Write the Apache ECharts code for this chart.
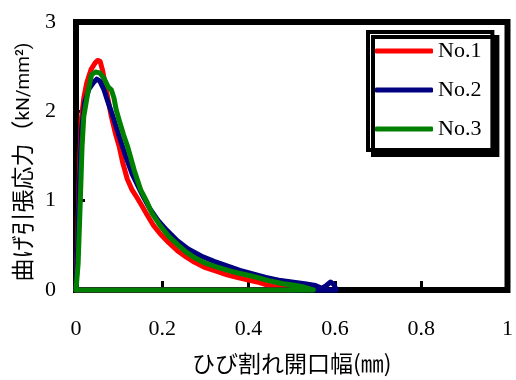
<!DOCTYPE html>
<html>
<head>
<meta charset="utf-8">
<script src="https://cdn.jsdelivr.net/npm/echarts@6/dist/echarts.min.js"></script>
<style>html,body{margin:0;padding:0;background:#fff}#c{width:516px;height:380px}</style>
</head>
<body>
<div id="c"></div>
<script>
var seriesNames = ['No.1', 'No.2', 'No.3'];
var xTicks = ['0', '0.2', '0.4', '0.6', '0.8', '1'];
var yTicks = ['0', '1', '2', '3'];

var x1 = [0, 0.004, 0.008, 0.012, 0.018, 0.025, 0.035, 0.044, 0.05, 0.056, 0.062, 0.07, 0.082, 0.092, 0.1, 0.108, 0.119, 0.13, 0.142, 0.153, 0.165, 0.18, 0.195, 0.215, 0.235, 0.255, 0.275, 0.3, 0.325, 0.35, 0.375, 0.4, 0.42, 0.44, 0.46, 0.48, 0.495, 0.505, 0];
var y1 = [0, 0.6, 1.35, 1.9, 2.15, 2.32, 2.47, 2.54, 2.57, 2.56, 2.45, 2.24, 1.94, 1.74, 1.61, 1.43, 1.24, 1.12, 1.03, 0.94, 0.84, 0.72, 0.63, 0.53, 0.44, 0.37, 0.31, 0.25, 0.21, 0.17, 0.14, 0.11, 0.09, 0.06, 0.04, 0.03, 0.01, 0, 0];

var x2 = [0, 0.004, 0.008, 0.013, 0.02, 0.03, 0.04, 0.048, 0.055, 0.065, 0.073, 0.085, 0.1, 0.115, 0.13, 0.15, 0.17, 0.19, 0.21, 0.235, 0.26, 0.29, 0.32, 0.35, 0.38, 0.41, 0.44, 0.47, 0.5, 0.53, 0.555, 0.57, 0.58, 0.59, 0.598, 0.603, 0];
var y2 = [0, 0.5, 1.2, 1.8, 2.1, 2.25, 2.32, 2.36, 2.34, 2.24, 2.12, 1.95, 1.72, 1.5, 1.3, 1.1, 0.92, 0.78, 0.67, 0.55, 0.46, 0.38, 0.32, 0.27, 0.22, 0.18, 0.14, 0.11, 0.09, 0.07, 0.05, 0.02, 0.05, 0.09, 0.06, 0, 0];

var x3 = [0, 0.005, 0.01, 0.014, 0.018, 0.027, 0.036, 0.045, 0.055, 0.065, 0.075, 0.082, 0.088, 0.093, 0.1, 0.11, 0.12, 0.135, 0.15, 0.165, 0.176, 0.195, 0.215, 0.235, 0.254, 0.275, 0.3, 0.325, 0.352, 0.375, 0.394, 0.42, 0.45, 0.48, 0.51, 0.53, 0.55, 0];
var y3 = [0, 0.3, 1.0, 1.6, 1.94, 2.2, 2.41, 2.44, 2.43, 2.37, 2.27, 2.24, 2.15, 2.02, 1.9, 1.74, 1.6, 1.34, 1.12, 0.98, 0.86, 0.72, 0.6, 0.51, 0.43, 0.36, 0.3, 0.26, 0.22, 0.19, 0.17, 0.14, 0.1, 0.07, 0.05, 0.03, 0, 0];

var colors = ['#ff0000', '#000080', '#008000'];

function pairs(xs, ys) {
  var out = [];
  for (var i = 0; i < xs.length; i++) out.push([xs[i], ys[i]]);
  return out;
}
var allX = [x1, x2, x3], allY = [y1, y2, y3];

var chart = echarts.init(document.getElementById('c'), null, {renderer: 'canvas'});
var serif = 'Liberation Serif, Times New Roman, serif';
var jp = 'Noto Sans CJK JP, sans-serif';

chart.setOption({
  animation: false,
  backgroundColor: '#fff',
  grid: {
    left: 76, right: 3, top: 22, bottom: 88,
    show: true, borderColor: '#000', borderWidth: 6, backgroundColor: 'transparent'
  },
  legend: {
    orient: 'vertical',
    left: 368, top: 32,
    padding: [8, 11, 10, 7],
    icon: 'roundRect',
    itemWidth: 58, itemHeight: 5, itemGap: 17,
    backgroundColor: '#fff',
    borderColor: '#000', borderWidth: 4,
    shadowColor: '#000', shadowOffsetX: 5, shadowOffsetY: 5, shadowBlur: 0,
    textStyle: {fontFamily: serif, fontSize: 22, color: '#000', lineHeight: 22},
    data: seriesNames
  },
  xAxis: {
    type: 'value', min: 0, max: 1, interval: 0.2,
    axisLine: {show: false},
    axisTick: {show: true, inside: true, length: 9, lineStyle: {color: '#000', width: 3}},
    splitLine: {show: false},
    axisLabel: {
      margin: 28, fontFamily: serif, fontSize: 22, color: '#000',
      formatter: function (v) { return xTicks[Math.round(v / 0.2)]; }
    },
    name: 'ひび割れ開口幅(㎜)',
    nameLocation: 'middle', nameGap: 62,
    nameTextStyle: {fontFamily: jp, fontSize: 23, color: '#000'}
  },
  yAxis: {
    type: 'value', min: 0, max: 3, interval: 1,
    axisLine: {show: false},
    axisTick: {show: true, inside: true, length: 9, lineStyle: {color: '#000', width: 3}},
    splitLine: {show: false},
    axisLabel: {
      margin: 20, fontFamily: serif, fontSize: 22, color: '#000',
      formatter: function (v) { return yTicks[Math.round(v)]; }
    },
    name: '{j|曲げ引張応力（}{l|kN/mm²)}',
    nameLocation: 'middle', nameGap: 42, nameRotate: 90,
    nameTextStyle: {
      fontFamily: jp, fontSize: 23, color: '#000',
      padding: [0, 12, 0, 0],
      rich: {
        j: {fontFamily: jp, fontSize: 23, color: '#000', verticalAlign: 'bottom'},
        l: {fontFamily: 'Roboto, sans-serif', fontSize: 19, color: '#000', verticalAlign: 'bottom'}
      }
    }
  },
  series: seriesNames.map(function (n, i) {
    return {
      name: n, type: 'line', showSymbol: false, symbol: 'none', clip: false,
      data: pairs(allX[i], allY[i]),
      lineStyle: {color: colors[i], width: 5, join: 'round', cap: 'round'},
      itemStyle: {color: colors[i]},
      z: 3 + i
    };
  })
});
</script>
</body>
</html>
